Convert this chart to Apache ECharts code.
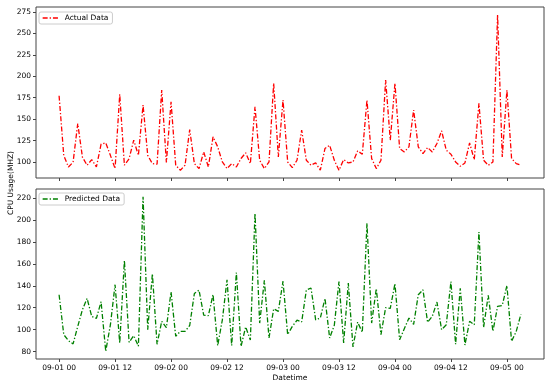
<!DOCTYPE html>
<html>
<head>
<meta charset="utf-8">
<script src="https://cdn.jsdelivr.net/npm/echarts@6/dist/echarts.min.js"></script>
<style>
html,body{margin:0;padding:0;background:#fff;}
#chart{width:550px;height:387px;}
</style>
</head>
<body>
<div id="chart"></div>
<script>
// Hourly observations starting 09-01 00 (index = hours since start)
const actualData = [
  177.4,108,94.5,100,145,106,96.5,103,94.5,121,
  122.5,108,92.6,179,96.5,104,125.7,108,166.5,108,
  98.4,97.7,184,99.6,170.4,96.5,90.7,96.5,138,98.4,
  92.6,112,94.5,129.5,117.9,100.3,92.6,98.4,94.5,104.3,
  110.9,98.4,164.5,102.3,92.6,100.3,191.8,106.2,172.3,100.3,
  93.8,102.3,137.3,102.3,96.5,99.2,90.7,116,119.8,102.3,
  90.7,103,99.2,100.3,113.2,109.3,172.3,104.3,92.6,102.3,
  195.7,125.7,191.8,116,112,117.9,160.7,117.9,110.1,117.1,
  112,121.8,136.5,114,109.3,100.3,95.3,99.2,122.5,103,
  168.4,102.3,96.5,100.3,271.5,106.2,184,104.3,98.4,96.5
];
const predictedData = [
  131.8,95.5,90,87,103,118.2,128.5,112,110.3,125.5,
  80.3,104.5,141,87.9,163,88.5,94.5,85,221.2,100,
  151,86.7,107.6,101.8,134.5,94,98.5,98.5,103.8,133,
  136,113.3,112.8,132,85.5,109,145.5,85.5,152,84.8,
  102.5,90.5,206,106,145,92.4,119,116.7,144.2,95.5,
  103,108.6,107,136,138,109,110.6,128.5,92.4,104,
  143.9,87.9,142.4,84.3,106.8,97.5,197,106,137.5,95.5,
  120,119.5,142,90.9,100.8,110.6,104.8,131.8,136.4,106.8,
  112.1,125.2,100,104.5,143.9,86.7,137.8,86,107.6,104.5,
  189,102.1,131.2,98.5,121.2,122.1,140.2,89.4,98.5,114
];
const xTickHours = [0,12,24,36,48,60,72,84,96];
const xTickLabels = ['09-01 00','09-01 12','09-02 00','09-02 12','09-03 00','09-03 12','09-04 00','09-04 12','09-05 00'];
const yTicksActual = [100,125,150,175,200,225,250,275];
const yTicksPredicted = [80,100,120,140,160,180,200,220];

function limits(arr){
  const mn = Math.min.apply(null, arr), mx = Math.max.apply(null, arr);
  const m = (mx - mn) * 0.05;
  return [mn - m, mx + m];
}
const n = actualData.length;
const xPad = (n - 1) * 0.05;
const xMin = -xPad, xMax = (n - 1) + xPad;
const la = limits(actualData), lp = limits(predictedData);

const FONT = 'DejaVu Sans';
const FS = 7.5;
const SPINE = '#444';
const DASH = [5, 2, 1.3, 2];

function xAxisCfg(grid, showLabels){
  return {
    gridIndex: grid, type: 'value', min: xMin, max: xMax, position: 'bottom',
    axisLine: {show: false, onZero: false},
    splitLine: {show: false},
    axisTick: {show: true, inside: false, length: 3, customValues: xTickHours, lineStyle: {color: SPINE, width: 1}},
    axisLabel: {show: showLabels, customValues: xTickHours, margin: 5, fontSize: FS, fontFamily: FONT, color: '#000',
      formatter: function(v){ const i = xTickHours.indexOf(v); return i >= 0 ? xTickLabels[i] : ''; }},
    name: showLabels ? 'Datetime' : '',
    nameLocation: 'middle', nameGap: 15,
    nameTextStyle: {fontSize: FS, fontFamily: FONT, color: '#000'}
  };
}
function yAxisCfg(grid, lim, ticks){
  return {
    gridIndex: grid, type: 'value', min: lim[0], max: lim[1], position: 'left',
    axisLine: {show: false, onZero: false},
    splitLine: {show: false},
    axisTick: {show: true, inside: false, length: 3, customValues: ticks, lineStyle: {color: SPINE, width: 1}},
    axisLabel: {customValues: ticks, margin: 5, fontSize: FS, fontFamily: FONT, color: '#000'}
  };
}
function legendCfg(name, top, color){
  return {
    data: [name], left: 39, top: top, orient: 'vertical',
    itemWidth: 17, itemHeight: 8, itemGap: 2,
    padding: [2, 4, 2, 3],
    backgroundColor: '#fff', borderColor: '#ccc', borderWidth: 1, borderRadius: 2,
    itemStyle: {opacity: 0},
    lineStyle: {color: color, width: 1.3, type: DASH},
    textStyle: {fontSize: FS, fontFamily: FONT, color: '#000', padding: [0,0,0,0]}
  };
}

const chart = echarts.init(document.getElementById('chart'), null, {renderer: 'canvas'});
chart.setOption({
  animation: false,
  backgroundColor: '#fff',
  textStyle: {fontFamily: FONT},
  grid: [
    {left: 36, top: 7, width: 508, height: 171, show: true, borderColor: SPINE, borderWidth: 1, backgroundColor: 'transparent'},
    {left: 36, top: 189, width: 508, height: 170, show: true, borderColor: SPINE, borderWidth: 1, backgroundColor: 'transparent'}
  ],
  xAxis: [xAxisCfg(0, false), xAxisCfg(1, true)],
  yAxis: [yAxisCfg(0, la, yTicksActual), yAxisCfg(1, lp, yTicksPredicted)],
  legend: [legendCfg('Actual Data', 12, '#ff0000'), legendCfg('Predicted Data', 193, '#008000')],
  graphic: [{
    type: 'text', x: 11, y: 183, rotation: Math.PI / 2,
    style: {text: 'CPU Usage(MHZ)', fontSize: FS, fontFamily: FONT, fill: '#000', textAlign: 'center', textVerticalAlign: 'middle'}
  }],
  series: [
    {name: 'Actual Data', type: 'line', xAxisIndex: 0, yAxisIndex: 0, symbol: 'none', smooth: false,
     data: actualData.map((v, i) => [i, v]),
     itemStyle: {color: '#ff0000'},
     lineStyle: {color: '#ff0000', width: 1.3, type: DASH}},
    {name: 'Predicted Data', type: 'line', xAxisIndex: 1, yAxisIndex: 1, symbol: 'none', smooth: false,
     data: predictedData.map((v, i) => [i, v]),
     itemStyle: {color: '#008000'},
     lineStyle: {color: '#008000', width: 1.3, type: DASH}}
  ]
});
</script>
</body>
</html>
